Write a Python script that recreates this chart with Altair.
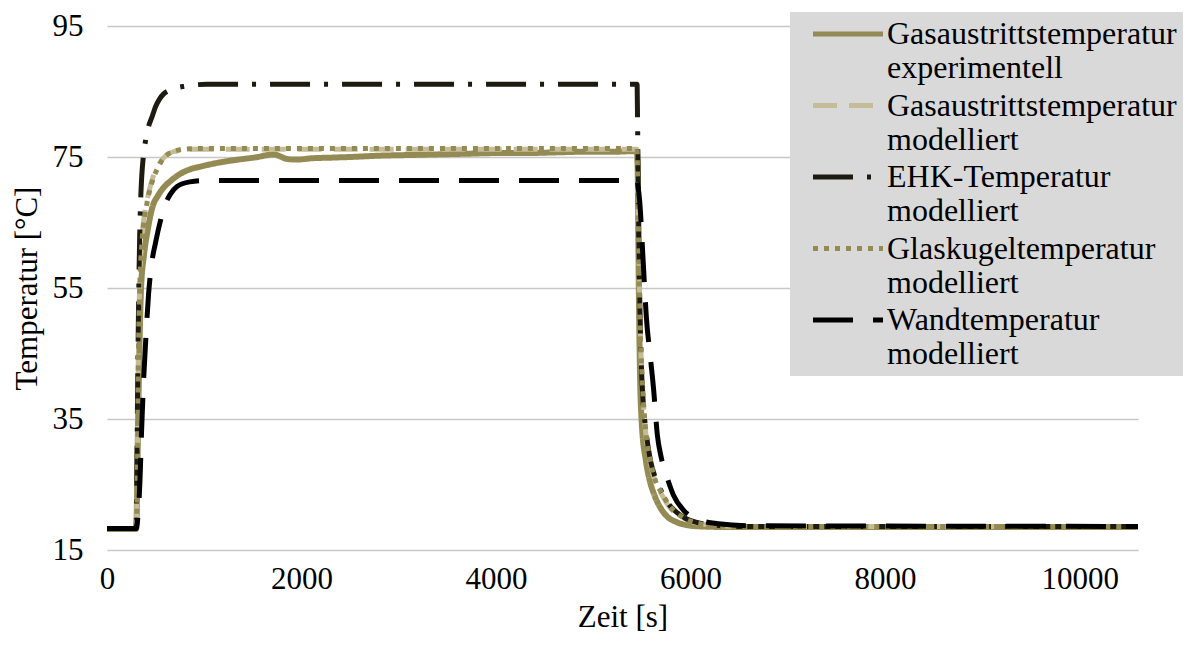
import altair as alt
import pandas as pd

# ---------------- data ----------------
series_names = [
    "Gasaustrittstemperatur|experimentell",
    "Gasaustrittstemperatur|modelliert",
    "EHK-Temperatur|modelliert",
    "Glaskugeltemperatur|modelliert",
    "Wandtemperatur|modelliert",
]
series_colors = ["#948A54", "#C4BD97", "#1D1B10", "#948A54", "#000000"]
series_dashes = [[1, 0], [24, 12], [40, 14, 4, 14], [5, 6], [40, 20]]
series_widths = [6, 5, 5, 5, 5]

t_gas_exp = [0, 300, 305, 315, 330, 350, 380, 420, 470, 520, 580, 650, 750, 850, 950,
             1100, 1250, 1400, 1550, 1650, 1720, 1780, 1850, 1950, 2100, 2300, 2500,
             2800, 3100, 3400, 3700, 4000, 4300, 4600, 4900, 5200, 5445, 5455, 5462,
             5470, 5480, 5500, 5540, 5580, 5620, 5700, 5760, 5850, 5960, 6100, 6400,
             7000, 8000, 9000, 10000, 10600]
T_gas_exp = [18.2, 18.2, 20.0, 30.0, 43.0, 55.0, 60.0, 64.0, 67.5, 69.0, 70.3, 71.3, 72.4,
             73.1, 73.5, 74.0, 74.4, 74.7, 75.0, 75.3, 75.4, 75.1, 74.7, 74.6, 74.8,
             74.9, 75.0, 75.2, 75.3, 75.4, 75.5, 75.6, 75.6, 75.7, 75.8, 75.8, 75.9,
             74.0, 64.0, 52.0, 42.0, 34.0, 28.7, 25.6, 23.7, 21.2, 20.1, 19.3, 18.8,
             18.6, 18.5, 18.5, 18.5, 18.5, 18.5, 18.5]

t_gas_mod = [0, 300, 305, 315, 322, 330, 340, 355, 373, 400, 425, 470, 528, 570, 614,
             680, 751, 850, 1000, 5450, 5455, 5465, 5480, 5500, 5535, 5586, 5640, 5706,
             5780, 5861, 5950, 6067, 6250, 6500, 10600]
T_gas_mod = [18.3, 18.3, 20.0, 31.0, 45.0, 52.0, 57.5, 61.5, 64.8, 67.4, 69.3, 71.8, 73.7,
             74.7, 75.3, 75.8, 76.0, 76.2, 76.2, 76.2, 72.0, 62.0, 50.0, 41.5, 33.5,
             28.4, 25.3, 23.4, 21.6, 20.5, 19.7, 19.1, 18.8, 18.6, 18.6]

t_ehk = [0, 300, 305, 315, 330, 345, 357, 373, 400, 430, 460, 500, 538, 580, 631, 700,
         800, 1026, 5450, 5453, 5458, 5465, 5475, 5490, 5510, 5535, 5586, 5640, 5706,
         5780, 5861, 5950, 6067, 6250, 6500, 10600]
T_ehk = [18.3, 18.3, 24.0, 40.0, 58.0, 68.0, 72.0, 75.0, 77.8, 79.8, 81.0, 82.7, 83.8,
         84.6, 85.1, 85.5, 85.8, 86.1, 86.1, 83.0, 76.0, 66.0, 55.0, 45.0, 38.0, 34.0,
         28.8, 25.9, 23.8, 21.9, 20.7, 19.8, 19.2, 18.8, 18.6, 18.6]

t_glas = [0, 300, 305, 315, 322, 330, 340, 355, 373, 400, 425, 470, 528, 570, 614, 680,
          751, 850, 1000, 5450, 5455, 5465, 5480, 5500, 5535, 5586, 5640, 5706, 5780,
          5861, 5950, 6067, 6250, 6500, 10600]
T_glas = [18.3, 18.3, 19.5, 30.0, 44.0, 51.0, 56.7, 61.0, 64.3, 67.0, 69.0, 71.5, 73.5,
          74.6, 75.3, 75.8, 76.1, 76.25, 76.3, 76.3, 72.0, 62.0, 50.0, 42.0, 33.8, 28.7,
          25.5, 23.7, 21.8, 20.6, 19.7, 19.1, 18.8, 18.6, 18.6]

t_wand = [0, 300, 320, 340, 355, 380, 400, 427, 460, 500, 545, 600, 650, 720, 850, 1000,
          5450, 5460, 5476, 5501, 5520, 5545, 5586, 5620, 5658, 5700, 5760, 5823, 5926,
          6050, 6286, 6600, 10600]
T_wand = [18.3, 18.3, 20.5, 26.0, 33.0, 42.0, 47.5, 54.0, 58.8, 62.0, 65.0, 67.8, 69.3,
          70.5, 71.2, 71.4, 71.4, 70.5, 68.4, 62.3, 57.0, 50.6, 44.5, 39.5, 32.6, 29.0,
          26.0, 23.4, 21.1, 19.8, 19.0, 18.7, 18.6]

x_ticks = [0, 2000, 4000, 6000, 8000, 10000]
y_ticks = [15, 35, 55, 75, 95]

# ---------------- table ----------------
rows = []
for name, ts, Ts in zip(series_names,
                        [t_gas_exp, t_gas_mod, t_ehk, t_glas, t_wand],
                        [T_gas_exp, T_gas_mod, T_ehk, T_glas, T_wand]):
    for t, T in zip(ts, Ts):
        rows.append({"series": name, "t": t, "T": T})
df = pd.DataFrame(rows)

FONT = "Times New Roman, Liberation Serif, DejaVu Serif, serif"

x_enc = alt.X(
    "t:Q",
    scale=alt.Scale(domain=[0, 10600], nice=False, zero=False),
    axis=alt.Axis(values=x_ticks, format="d", grid=False, domain=False, ticks=False,
                  labelFont=FONT, labelFontSize=31, labelColor="#000000",
                  labelPadding=14, title="Zeit [s]", titleFont=FONT,
                  titleFontSize=31, titleFontWeight="normal", titleColor="#000000",
                  titlePadding=8, labelFlush=False),
)
y_enc = alt.Y(
    "T:Q",
    scale=alt.Scale(domain=[15, 95], nice=False, zero=False),
    axis=alt.Axis(values=y_ticks, format="d", grid=True, gridColor="#C8C8C8",
                  gridWidth=1.5, domain=False, ticks=False, labelFont=FONT,
                  labelFontSize=31, labelColor="#000000", labelPadding=24,
                  title="Temperatur [°C]", titleFont=FONT, titleFontSize=31,
                  titleFontWeight="normal", titleColor="#000000", titlePadding=9),
)

# long horizontal line as legend symbol, with a small nominal size so that
# the two-line labels start level with the symbol
legend = alt.Legend(
    title=None, orient="none", legendX=683, legendY=-14,
    fillColor="#D9D9D9", padding=6, symbolOffset=36,
    symbolType="M-5,0H5", symbolSize=196, symbolStrokeWidth=5,
    labelFont=FONT, labelFontSize=32, labelColor="#000000", labelLimit=500,
    labelOffset=23, rowPadding=5.5, labelExpr="split(datum.label, '|')",
)

color_enc = alt.Color("series:N",
                      scale=alt.Scale(domain=series_names, range=series_colors),
                      legend=legend)
dash_enc = alt.StrokeDash("series:N",
                          scale=alt.Scale(domain=series_names, range=series_dashes),
                          legend=legend)

layers = []
for name, w in zip(series_names, series_widths):
    layers.append(
        alt.Chart(df)
        .transform_filter(alt.datum.series == name)
        .mark_line(strokeWidth=w, interpolate="monotone", clip=True)
        .encode(x=x_enc, y=y_enc, color=color_enc, strokeDash=dash_enc)
    )

chart = (
    alt.layer(*layers)
    .properties(width=1031, height=524,
                padding={"left": 99, "top": 18, "right": 51, "bottom": 90},
                autosize=alt.AutoSizeParams(type="none"),
                background="#FFFFFF")
    .configure_view(strokeWidth=0)
)

chart.save("out.html", embed_options={"renderer": "svg", "actions": False})
